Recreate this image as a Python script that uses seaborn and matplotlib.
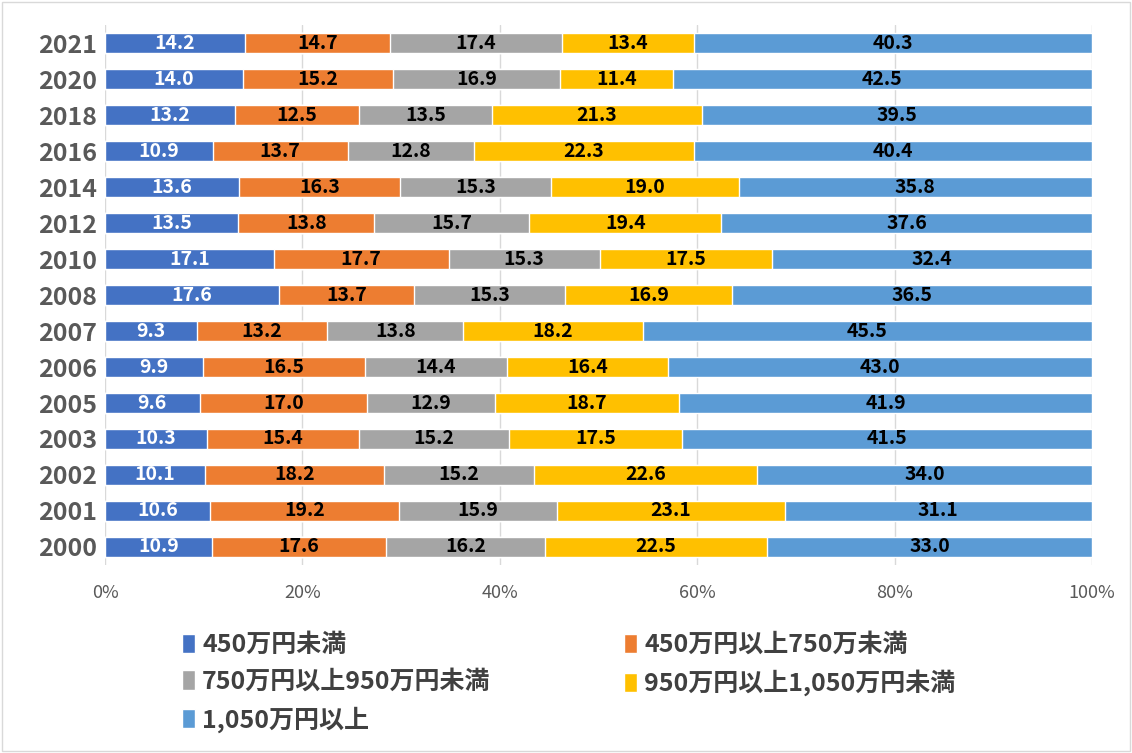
import numpy as np
import pandas as pd
import matplotlib
matplotlib.use("Agg")
import matplotlib.pyplot as plt
from matplotlib.patches import Patch, Rectangle
import seaborn as sns

# ===== データ =====
years = ["2021", "2020", "2018", "2016", "2014", "2012", "2010", "2008",
         "2007", "2006", "2005", "2003", "2002", "2001", "2000"]
categories = ["450万円未満", "450万円以上750万未満", "750万円以上950万円未満",
              "950万円以上1,050万円未満", "1,050万円以上"]
under450 = [14.2, 14.0, 13.2, 10.9, 13.6, 13.5, 17.1, 17.6, 9.3, 9.9, 9.6, 10.3, 10.1, 10.6, 10.9]
r450_750 = [14.7, 15.2, 12.5, 13.7, 16.3, 13.8, 17.7, 13.7, 13.2, 16.5, 17.0, 15.4, 18.2, 19.2, 17.6]
r750_950 = [17.4, 16.9, 13.5, 12.8, 15.3, 15.7, 15.3, 15.3, 13.8, 14.4, 12.9, 15.2, 15.2, 15.9, 16.2]
r950_1050 = [13.4, 11.4, 21.3, 22.3, 19.0, 19.4, 17.5, 16.9, 18.2, 16.4, 18.7, 17.5, 22.6, 23.1, 22.5]
over1050 = [40.3, 42.5, 39.5, 40.4, 35.8, 37.6, 32.4, 36.5, 45.5, 43.0, 41.9, 41.5, 34.0, 31.1, 33.0]
colors = ["#4472C4", "#ED7D31", "#A5A5A5", "#FFC000", "#5B9BD5"]
text_colors = ["white", "black", "black", "black", "black"]

df = pd.DataFrame({"year": years}).set_index("year")
for name, vals in zip(categories, [under450, r450_750, r750_950, r950_1050, over1050]):
    df[name] = vals
# 100%積み上げ
pct = df.div(df.sum(axis=1), axis=0) * 100
cum = pct.cumsum(axis=1)

# ===== 描画 =====
sns.set_theme(style="white")
plt.rcParams["font.family"] = ["Noto Sans CJK JP", "DejaVu Sans"]

fig = plt.figure(figsize=(11.32, 7.53), dpi=100)
ax = fig.add_axes([0.0928, 0.2497, 0.8719, 0.717])

# 後ろから描いて重ねる
for i in range(len(categories) - 1, -1, -1):
    sns.barplot(x=cum.iloc[:, i].values, y=years, order=years, orient="h",
                color=colors[i], saturation=1, width=0.56, ax=ax, zorder=2)

# 数値ラベル
for r, yr in enumerate(years):
    for i, cat in enumerate(categories):
        left = cum.iloc[r, i] - pct.iloc[r, i]
        xc = left + pct.iloc[r, i] / 2
        ax.text(xc, r, f"{df.loc[yr, cat]:.1f}", ha="center", va="center",
                color=text_colors[i], fontsize=14, fontweight="bold", zorder=3)

ax.set_xlim(0, 100)
ax.set_xticks(np.arange(0, 101, 20))
ax.set_xticklabels([f"{v}%" for v in range(0, 101, 20)])
ax.set_xlabel("")
ax.set_ylabel("")
ax.grid(axis="x", color="#d9d9d9", linewidth=1, zorder=0)
ax.set_axisbelow(True)
for s in ax.spines.values():
    s.set_visible(False)
ax.tick_params(axis="x", labelsize=13, colors="#595959", pad=14, length=0)
ax.tick_params(axis="y", labelsize=18, colors="#595959", pad=6, length=0)
for lab in ax.get_yticklabels():
    lab.set_fontweight("bold")

# 凡例
handles = [Patch(facecolor=c) for c in colors]
order = [0, 2, 4, 1, 3]
leg = fig.legend([handles[k] for k in order], [categories[k] for k in order],
                 loc="upper left", bbox_to_anchor=(0.141, 0.189), ncol=2,
                 frameon=False, handlelength=0.5, handleheight=0.8,
                 handletextpad=0.3, columnspacing=5.35, labelspacing=0.5,
                 prop={"size": 18, "weight": "bold"})
for t in leg.get_texts():
    t.set_color("#404040")

fig.patches.append(Rectangle((0.002, 0.002), 0.996, 0.996, transform=fig.transFigure,
                             fill=False, edgecolor="#d9d9d9", linewidth=1))

fig.savefig("out.png", dpi=100)
